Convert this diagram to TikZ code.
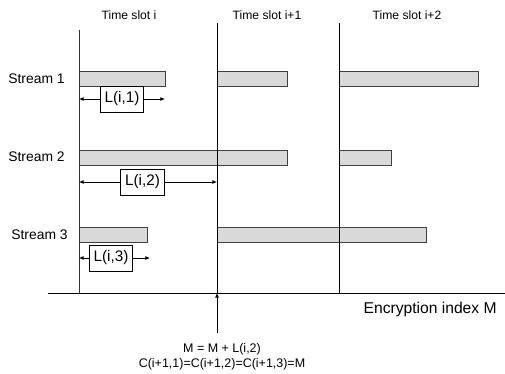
\documentclass[tikz,border=0pt]{standalone}
\usepackage{fontspec}
\setmainfont{Liberation Sans}
\usetikzlibrary{arrows.meta}
\begin{document}
\begin{tikzpicture}[
        x=0.02cm, y=-0.02cm,
        slot_label/.style={font=\fontsize{6.9}{8}\selectfont},
        stream_label/.style={font=\fontsize{7.9}{9}\selectfont, anchor=west, inner sep=0pt},
        packet/.style={draw=black!75, fill=black!15, line width=0.5pt},
        boundary/.style={line width=0.5pt},
        length/.style={{Latex[length=2.6pt,width=2.2pt]}-{Latex[length=2.6pt,width=2.2pt]}, line width=0.4pt},
        len_label/.style={draw, fill=white, font=\fontsize{8.7}{10}\selectfont, inner xsep=2.5pt, minimum height=13pt, midway}
    ]
        \useasboundingbox (0,0) rectangle (505,374);

        % Time slot headings
        \node[slot_label] (slot_i) at (129,15) {Time slot i};
        \node[slot_label] (slot_i1) at (267,15) {Time slot i+1};
        \node[slot_label] (slot_i2) at (407,15) {Time slot i+2};

        % Stream 1
        \node[stream_label] (stream1) at (8,79) {Stream 1};
        \draw[packet] (79,71) rectangle (165,86);
        \draw[packet] (217,71) rectangle (287,86);
        \draw[packet] (339,71) rectangle (478,86);

        % Stream 2
        \node[stream_label] (stream2) at (8,157) {Stream 2};
        \draw[packet] (79,150) rectangle (287,165);
        \draw[packet] (339,150) rectangle (391,165);

        % Stream 3
        \node[stream_label] (stream3) at (11,235) {Stream 3};
        \draw[packet] (79,227) rectangle (147,242);
        \draw[packet] (217,227) rectangle (426,242);

        % Slot boundaries and the index axis
        \coordinate (axis_start) at (48,293);
        \coordinate (axis_end) at (505,293);
        \coordinate (b0_top) at (79,30);
        \coordinate (b0_bot) at (79,293);
        \coordinate (b1_top) at (217,23);
        \coordinate (b1_bot) at (217,293);
        \coordinate (b2_top) at (339,23);
        \coordinate (b2_bot) at (339,293);
        \draw[boundary, black!80] (b0_top) -- (b0_bot);
        \draw[boundary] (b1_top) -- (b1_bot);
        \draw[boundary] (b2_top) -- (b2_bot);
        \draw[boundary] (axis_start) -- (axis_end);
        \node[font=\fontsize{8.9}{10}\selectfont, anchor=east, inner sep=0pt] (axis_label) at (497,309) {Encryption index M};

        % Lengths inside slot i
        \coordinate (len1_a) at (79,99);
        \coordinate (len1_b) at (165,99);
        \draw[length] (len1_a) -- (len1_b) node[len_label] (len1) {L(i,1)};
        \coordinate (len2_a) at (79,182);
        \coordinate (len2_b) at (217,182);
        \draw[length] (len2_a) -- (len2_b) node[len_label, pos=0.46] (len2) {L(i,2)};
        \coordinate (len3_a) at (79,258);
        \coordinate (len3_b) at (150,258);
        \draw[length] (len3_a) -- (len3_b) node[len_label, pos=0.45] (len3) {L(i,3)};

        % Index update at the end of slot i
        \coordinate (update_src) at (217,333);
        \draw[-{Latex[length=2.6pt,width=2.2pt]}, line width=0.4pt] (update_src) -- (b1_bot);
        \node[font=\fontsize{7.1}{8.4}\selectfont, align=center] (update) at (222,357) {M = M + L(i,2)\\C(i+1,1)=C(i+1,2)=C(i+1,3)=M};
    \end{tikzpicture}
\end{document}
